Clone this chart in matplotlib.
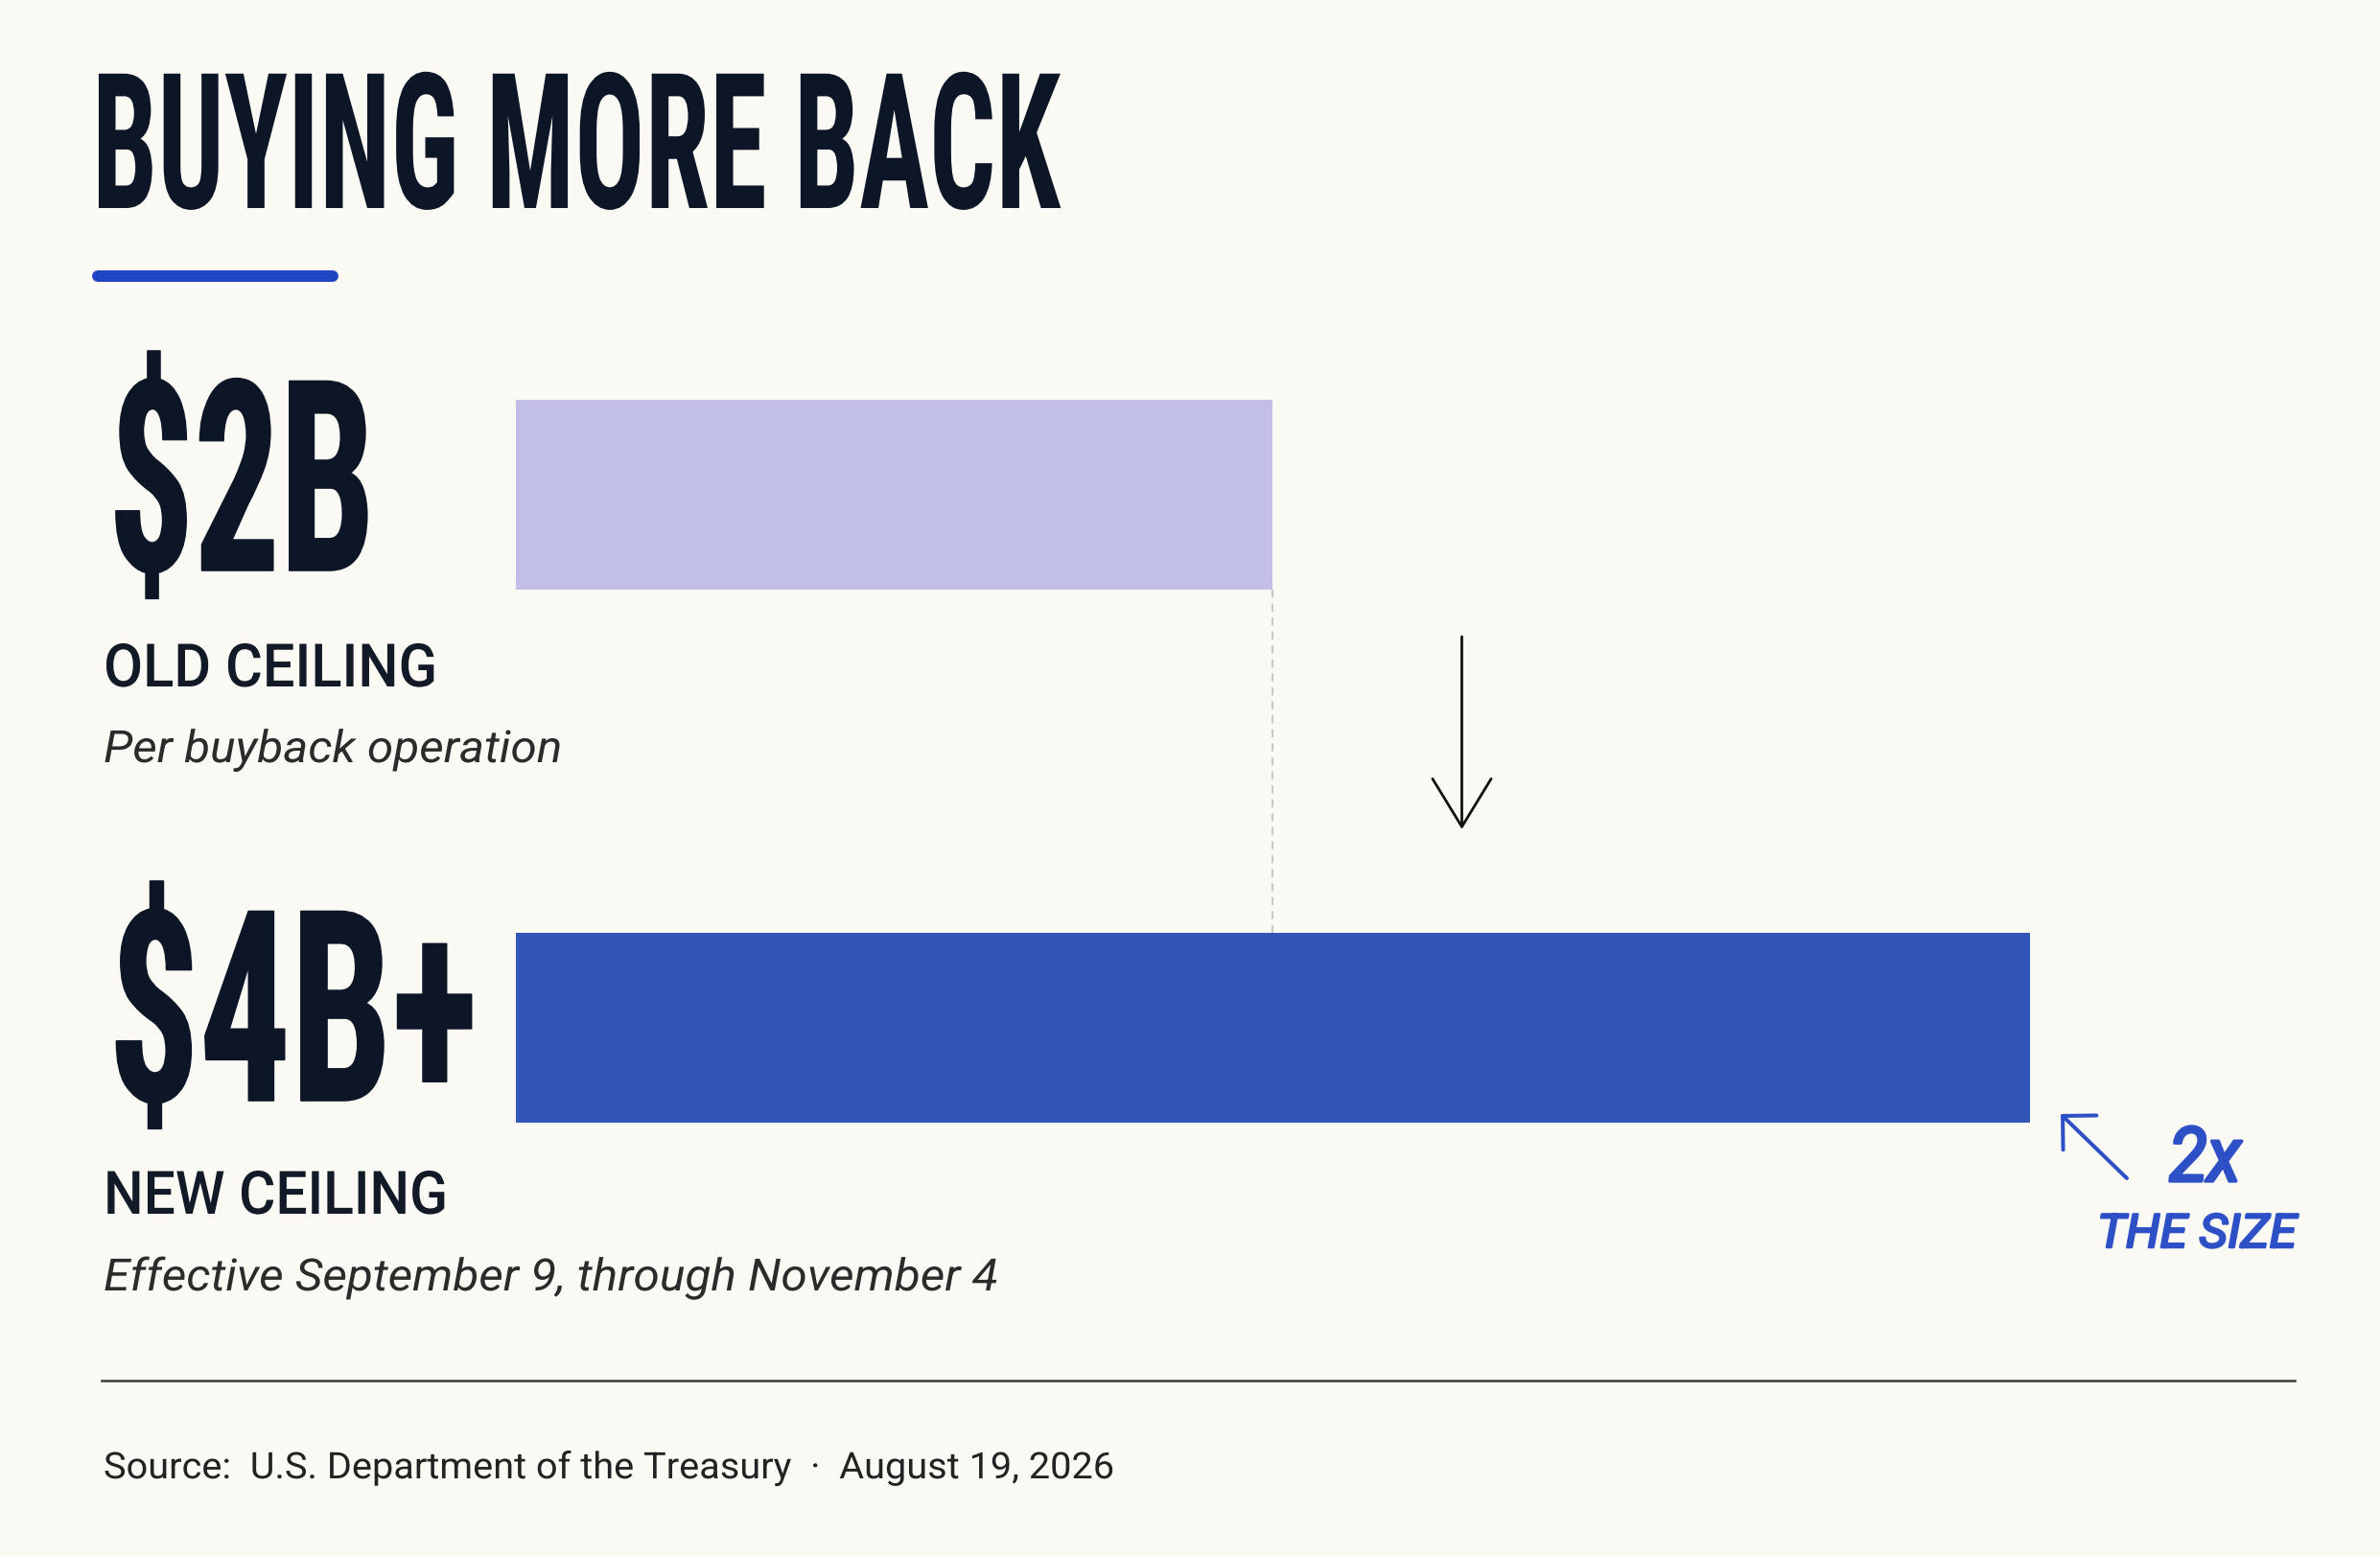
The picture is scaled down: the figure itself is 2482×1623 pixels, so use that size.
import os
import matplotlib
matplotlib.use('Agg')
import matplotlib.pyplot as plt
from matplotlib import font_manager, patheffects
from matplotlib.transforms import Affine2D

# --- data -------------------------------------------------------------
title = 'BUYING MORE BACK'
categories = ['OLD CEILING', 'NEW CEILING']
values = [2, 4]                      # ceiling per buyback operation, $ billions
value_labels = ['$2B', '$4B+']
notes = ['Per buyback operation', 'Effective September 9, through November 4']
callout = ['2x', 'THE SIZE']
source = 'Source:  U.S. Department of the Treasury  \u00b7  August 19, 2026'

W, H = 2482, 1624
BG = '#FBF9F4'
INK = '#0C1626'
LIGHT = '#C1BEE8'
DARK = '#3256B8'
ACCENT = '#1F45C2'
HAND = '#2D50C6'


class Squeeze(patheffects.AbstractPathEffect):
    """Draw text narrower (sx < 1) around its left edge, optional round stroke."""
    def __init__(self, sx, stroke=0):
        super().__init__()
        self.sx = sx
        self.stroke = stroke

    def draw_path(self, renderer, gc, tpath, affine, rgbFace=None):
        tr = Affine2D().scale(self.sx, 1.0) + affine
        if self.stroke:
            gc0 = renderer.new_gc()
            gc0.copy_properties(gc)
            gc0.set_linewidth(self.stroke)
            gc0.set_foreground(rgbFace)
            gc0.set_joinstyle('round')
            gc0.set_capstyle('round')
            renderer.draw_path(gc0, tpath, tr, rgbFace)
            gc0.restore()
        else:
            renderer.draw_path(gc, tpath, tr, rgbFace)


def font_file(names):
    files = [f.fname for f in font_manager.fontManager.ttflist]
    for n in names:
        for f in files:
            if os.path.splitext(os.path.basename(f))[0].lower() == n.lower():
                return f
    return None


cond_file = font_file(['RobotoCondensed-Bold', 'NotoSans-ExtraCondensedBold',
                       'NotoSans-CondensedBold', 'LiberationSansNarrow-Bold',
                       'DejaVuSansCondensed-Bold', 'Roboto-Bold'])


def cond_font(size):
    if cond_file:
        return font_manager.FontProperties(fname=cond_file, size=size)
    return font_manager.FontProperties(family='DejaVu Sans', weight='bold', size=size)


def sans(size, weight='normal', style='normal'):
    return font_manager.FontProperties(family=['Roboto', 'DejaVu Sans'],
                                       weight=weight, style=style, size=size)


fig = plt.figure(figsize=(W / 100, H / 100), dpi=100, facecolor=BG)
renderer = fig.canvas.get_renderer()

# --- bars ---------------------------------------------------------------
bar_h = 0.356
ax = fig.add_axes([537.5 / W, 1 - 1172 / H, (2117 - 537.5) / W, (1172 - 418) / H])
ax.barh(range(len(values)), values, height=bar_h, color=[LIGHT, DARK], zorder=2)
ax.plot([values[0], values[0]], [bar_h / 2, 1 - bar_h / 2], color='#C8C8C8',
        lw=1.5, linestyle=(0, (4, 3)), zorder=1)
ax.set_xlim(0, max(values))
ax.set_ylim(len(values) - 1 + bar_h / 2, -bar_h / 2)
ax.axis('off')

# --- text layer in pixel coordinates -------------------------------------
deco = fig.add_axes([0, 0, 1, 1], zorder=3)
deco.set_xlim(0, W)
deco.set_ylim(H, 0)
deco.axis('off')
deco.patch.set_visible(False)


def fit_text(x, y, s, width, fp, color, stroke=0):
    t = deco.text(x, y, s, ha='left', va='baseline', fontproperties=fp, color=color)
    w = t.get_window_extent(renderer).width
    t.set_path_effects([Squeeze(width / w, stroke)])
    return t


fit_text(96, 218, title, 1010, cond_font(142), INK)
deco.plot([102, 347], [289, 289], color=ACCENT, lw=8.6, solid_capstyle='round')

num_base = [596, 1149]
num_width = [278, 385]
cat_base = [717, 1267]
cat_width = [348, 359]
note_base = [796, 1347]
note_width = [478, 932]
for i in range(len(values)):
    fit_text(113, num_base[i], value_labels[i], num_width[i], cond_font(200), INK, stroke=1.2)
    fit_text(108, cat_base[i], categories[i], cat_width[i], sans(45, 'medium'), '#111A26')
    fit_text(108, note_base[i], notes[i], note_width[i], sans(33.5, 'normal', 'italic'), '#2B2B2B')

# arrow between the bars
deco.annotate('', xy=(1524.5, 866), xytext=(1524.5, 665),
              arrowprops=dict(arrowstyle='->,head_length=1.8,head_width=1.1',
                              color='#111111', lw=2.0, mutation_scale=20,
                              shrinkA=0, shrinkB=0))

# hand-drawn callout
deco.annotate('', xy=(2149, 1163), xytext=(2218, 1230),
              arrowprops=dict(arrowstyle='->,head_length=0.9,head_width=0.9',
                              color=HAND, lw=2.9, mutation_scale=20,
                              shrinkA=0, shrinkB=0, capstyle='round', joinstyle='round'))
fit_text(2262, 1233, callout[0], 75, sans(57, 'normal', 'italic'), HAND, stroke=2.4)
fit_text(2187, 1302, callout[1], 208, sans(35, 'normal', 'italic'), HAND, stroke=1.8)

# footer
deco.plot([106, 2393], [1441, 1441], color='#3A3A3A', lw=1.8)
fit_text(108, 1543, source, 1056, sans(27.5), '#222222')

fig.savefig('out.png', dpi=100, facecolor=BG)
